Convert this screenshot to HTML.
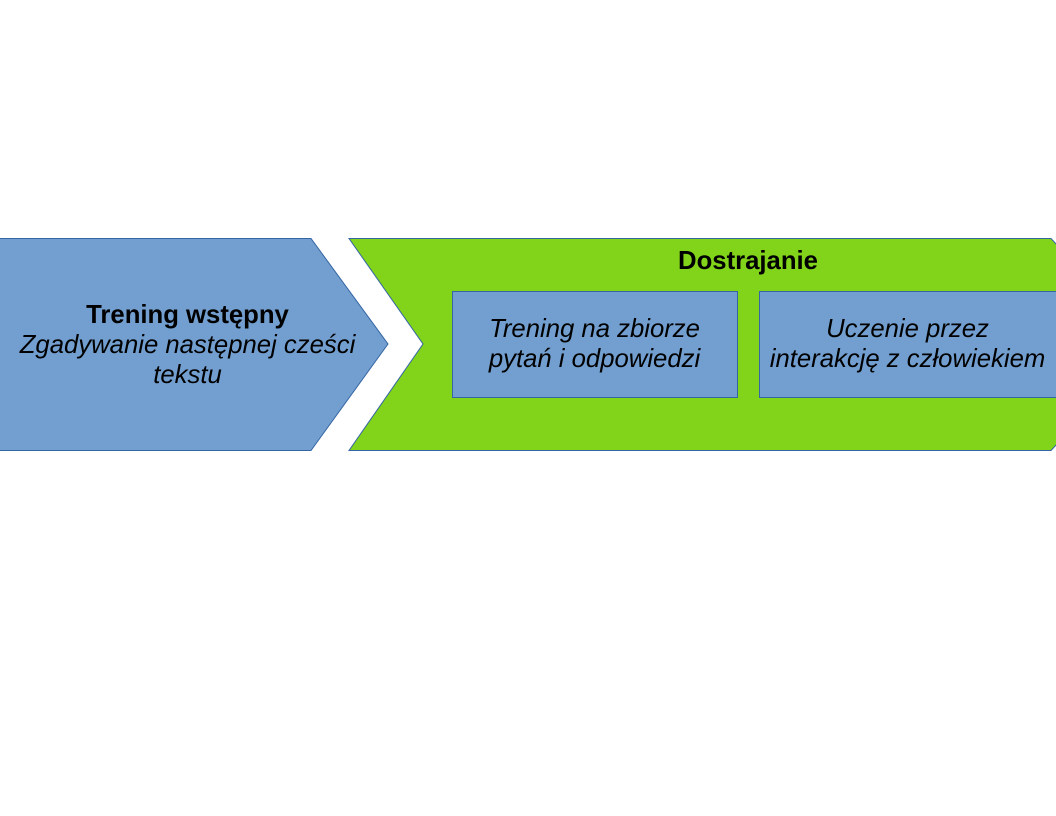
<!DOCTYPE html>
<html><head><meta charset="utf-8"><style>
body{margin:0;width:1056px;height:816px;background:#fff;overflow:hidden}
.t{position:absolute;font-family:"Liberation Sans",sans-serif;font-size:25.7px;color:#000;text-align:center;line-height:30px}
</style></head><body>
<svg width="1056" height="816" style="position:absolute;left:0;top:0">
<polygon points="-1,238.5 311,238.5 388,344 311,450.5 -1,450.5" fill="#729fcf" stroke="#3465a4" stroke-width="1"/>
<polygon points="349,238.5 1051,238.5 1057,245 1057,444 1051,450.5 349,450.5 423,344" fill="#81d41a" stroke="#3465a4" stroke-width="1"/>
<rect x="452.5" y="291.5" width="285" height="106" fill="#729fcf" stroke="#3465a4"/>
<rect x="759.5" y="291.5" width="300" height="106" fill="#729fcf" stroke="#3465a4"/>
</svg>
<div class="t" style="left:0;top:300px;width:375px"><b>Trening wstępny</b><br><i>Zgadywanie następnej cześci<br>tekstu</i></div>
<div class="t" style="left:600px;top:246px;width:296px"><b>Dostrajanie</b></div>
<div class="t" style="left:452px;top:314px;width:285px"><i>Trening na zbiorze<br>pytań i odpowiedzi</i></div>
<div class="t" style="left:759px;top:314px;width:297px"><i>Uczenie przez<br>interakcję z człowiekiem</i></div>
</body></html>
